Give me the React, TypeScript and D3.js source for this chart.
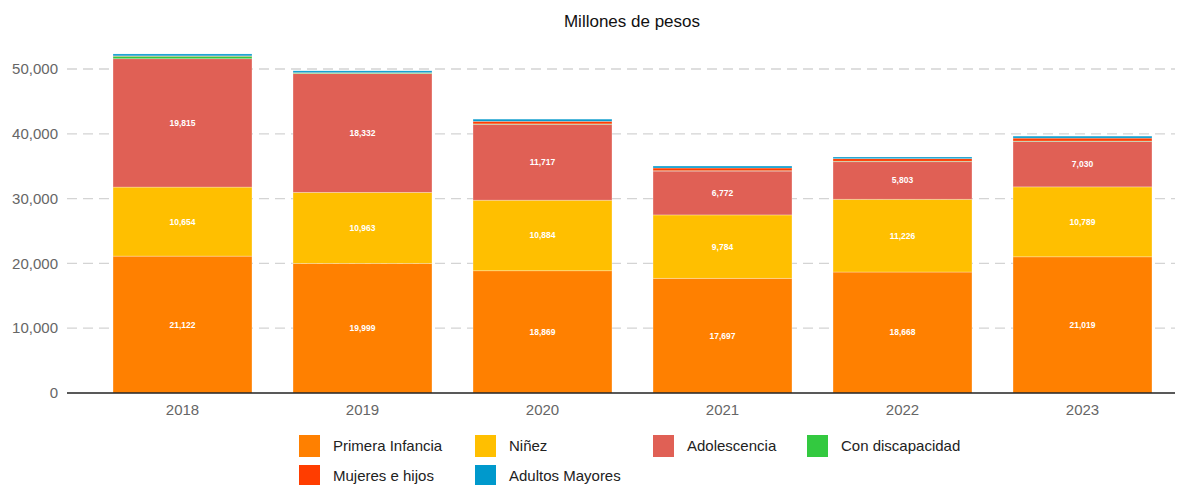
import React, { useRef, useEffect } from 'react';
import * as d3 from 'd3';

const years = ['2018', '2019', '2020', '2021', '2022', '2023'];
const seriesNames = ['Primera Infancia', 'Niñez', 'Adolescencia', 'Con discapacidad', 'Mujeres e hijos', 'Adultos Mayores'];
const seriesColors = ['#ff8000', '#ffbf00', '#e06055', '#33c940', '#ff3d00', '#0099cc'];

const primeraInfancia = [21122, 19999, 18869, 17697, 18668, 21019];
const ninez = [10654, 10963, 10884, 9784, 11226, 10789];
const adolescencia = [19815, 18332, 11717, 6772, 5803, 7030];
const conDiscapacidad = [380, 90, 60, 50, 70, 50];
const mujeresHijos = [60, 50, 400, 420, 400, 450];
const adultosMayores = [290, 280, 330, 300, 250, 300];

const yTicks = [0, 10000, 20000, 30000, 40000, 50000];
// labels only shown for the three big series
const labelled = [true, true, true, false, false, false];

const W = 1188;
const H = 485;

const App = () => {
  const svgRef = useRef<SVGSVGElement>(null);

  useEffect(() => {
    const svg = d3.select(svgRef.current);
    svg.selectAll('*').remove();

    const font = '"Liberation Sans", Arial, sans-serif';
    const left = 67;
    const right = 1175;

    const rows = years.map((yr, i) => ({
      year: yr,
      s0: primeraInfancia[i],
      s1: ninez[i],
      s2: adolescencia[i],
      s3: conDiscapacidad[i],
      s4: mujeresHijos[i],
      s5: adultosMayores[i],
    }));
    const keys = ['s0', 's1', 's2', 's3', 's4', 's5'];
    const stacked = d3.stack<any>().keys(keys)(rows);

    const x = d3.scaleBand()
      .domain(years)
      .range([92.5, 1172.5])
      .paddingInner(0.228)
      .paddingOuter(0.114);

    const y = d3.scaleLinear()
      .domain([0, 55000])
      .range([393, 36.6]);

    // title
    svg.append('text')
      .attr('x', 632)
      .attr('y', 27)
      .attr('text-anchor', 'middle')
      .attr('font-family', font)
      .attr('font-size', 17)
      .attr('fill', '#111')
      .text('Millones de pesos');

    // gridlines
    svg.append('g')
      .selectAll('line')
      .data(yTicks.filter(d => d > 0))
      .enter().append('line')
      .attr('x1', left)
      .attr('x2', right)
      .attr('y1', d => y(d))
      .attr('y2', d => y(d))
      .attr('stroke', '#d4d4d4')
      .attr('stroke-width', 1.3)
      .attr('stroke-dasharray', '10,6');

    // y tick labels
    svg.append('g')
      .selectAll('text')
      .data(yTicks)
      .enter().append('text')
      .attr('x', 58)
      .attr('y', d => y(d))
      .attr('dy', '0.35em')
      .attr('text-anchor', 'end')
      .attr('font-family', font)
      .attr('font-size', 15)
      .attr('fill', '#666')
      .text(d => d3.format(',')(d));

    // bars
    const layers = svg.append('g')
      .selectAll('g')
      .data(stacked)
      .enter().append('g')
      .attr('fill', (_d, i) => seriesColors[i]);

    layers.selectAll('rect')
      .data(d => d)
      .enter().append('rect')
      .attr('x', d => x(d.data.year)!)
      .attr('width', x.bandwidth())
      .attr('y', d => y(d[1]))
      .attr('height', d => y(d[0]) - y(d[1]))
      .attr('stroke', 'rgba(255,255,255,0.35)')
      .attr('stroke-width', 0.8);

    // segment labels
    stacked.forEach((layer, i) => {
      if (!labelled[i]) return;
      svg.append('g')
        .selectAll('text')
        .data(layer)
        .enter().append('text')
        .attr('x', d => x(d.data.year)! + x.bandwidth() / 2)
        .attr('y', d => y((d[0] + d[1]) / 2))
        .attr('dy', '0.35em')
        .attr('text-anchor', 'middle')
        .attr('font-family', font)
        .attr('font-size', 8.5)
        .attr('font-weight', 'bold')
        .attr('fill', '#fff')
        .text(d => d3.format(',')(d[1] - d[0]));
    });

    // baseline
    svg.append('line')
      .attr('x1', left)
      .attr('x2', right)
      .attr('y1', y(0))
      .attr('y2', y(0))
      .attr('stroke', '#222')
      .attr('stroke-width', 1.5);

    // x labels
    svg.append('g')
      .selectAll('text')
      .data(years)
      .enter().append('text')
      .attr('x', d => x(d)! + x.bandwidth() / 2)
      .attr('y', 415)
      .attr('text-anchor', 'middle')
      .attr('font-family', font)
      .attr('font-size', 15)
      .attr('fill', '#666')
      .text(d => d);

    // legend
    const legendPos = [
      [299, 435], [475, 435], [653, 435], [807, 435],
      [299, 465], [475, 465],
    ];
    const legend = svg.append('g')
      .selectAll('g')
      .data(seriesNames)
      .enter().append('g')
      .attr('transform', (_d, i) => `translate(${legendPos[i][0]},${legendPos[i][1]})`);

    legend.append('rect')
      .attr('width', 21)
      .attr('height', 22)
      .attr('fill', (_d, i) => seriesColors[i]);

    legend.append('text')
      .attr('x', 34)
      .attr('y', 11)
      .attr('dy', '0.35em')
      .attr('font-family', font)
      .attr('font-size', 15)
      .attr('fill', '#222')
      .text(d => d);
  }, []);

  return (
    <svg ref={svgRef} width={W} height={H} style={{ position: 'absolute', left: 0, top: 0 }} />
  );
};

export default App;
